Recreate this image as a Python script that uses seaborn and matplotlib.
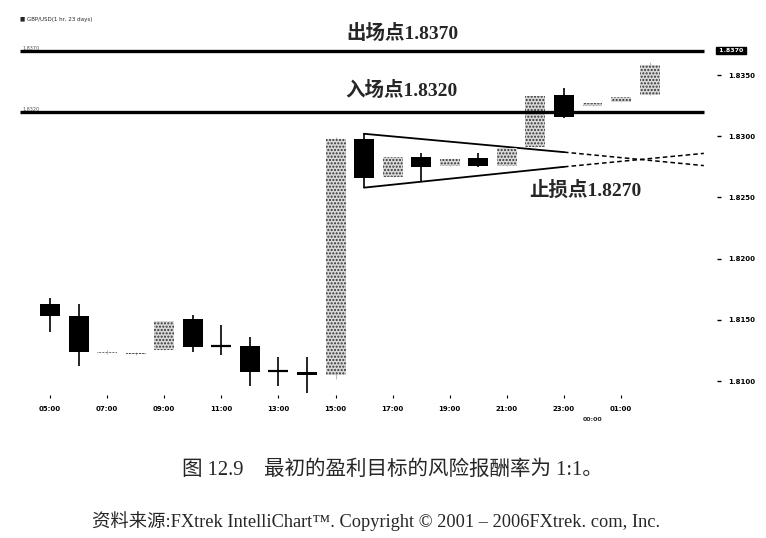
import pandas as pd
import matplotlib
matplotlib.use("Agg")
import matplotlib.pyplot as plt
import seaborn as sns

# 1小时K线 GBP/USD（从图上读出的大致数值）
hours = ['05:00', '06:00', '07:00', '08:00', '09:00', '10:00', '11:00', '12:00',
         '13:00', '14:00', '15:00', '16:00', '17:00', '18:00', '19:00', '20:00',
         '21:00', '22:00', '23:00', '00:00', '01:00', '02:00']
opens = [1.8163, 1.8153, 1.8123, 1.8122, 1.8125, 1.8151, 1.8129, 1.8129,
         1.8108, 1.8107, 1.8105, 1.8298, 1.8267, 1.8283, 1.8276, 1.8282,
         1.8276, 1.8291, 1.8334, 1.8325, 1.8328, 1.8334]
highs = [1.8168, 1.8163, 1.8125, 1.8124, 1.8149, 1.8154, 1.8146, 1.8136,
         1.8120, 1.8120, 1.8299, 1.8303, 1.8283, 1.8286, 1.8281, 1.8286,
         1.8290, 1.8333, 1.8339, 1.8327, 1.8332, 1.8361]
lows = [1.8140, 1.8112, 1.8122, 1.8121, 1.8125, 1.8124, 1.8121, 1.8096,
        1.8096, 1.8090, 1.8102, 1.8258, 1.8267, 1.8263, 1.8276, 1.8275,
        1.8276, 1.8291, 1.8315, 1.8325, 1.8328, 1.8334]
closes = [1.8153, 1.8124, 1.8124, 1.8123, 1.8149, 1.8128, 1.8129, 1.8107,
          1.8108, 1.8105, 1.8298, 1.8266, 1.8283, 1.8275, 1.8281, 1.8276,
          1.8290, 1.8333, 1.8316, 1.8327, 1.8332, 1.8358]

xtick_pos = [0, 2, 4, 6, 8, 10, 12, 14, 16, 18, 20]
xtick_labels = ['05:00', '07:00', '09:00', '11:00', '13:00', '15:00',
                '17:00', '19:00', '21:00', '23:00', '01:00']
ytick_vals = [1.8100, 1.8150, 1.8200, 1.8250, 1.8300, 1.8350]
ytick_labels = ['1.8100', '1.8150', '1.8200', '1.8250', '1.8300', '1.8350']

# 出场 / 入场水平线
exit_level = 1.8370
entry_level = 1.8320

# 三角形收敛线：实线段 + 虚线延伸
upper_x = [11, 18]
upper_y = [1.8302, 1.8287]
upper_ext_x = [18, 22.9]
upper_ext_y = [1.8287, 1.8276]
lower_x = [11, 18]
lower_y = [1.8258, 1.8275]
lower_ext_x = [18, 22.9]
lower_ext_y = [1.8275, 1.8286]

df = pd.DataFrame({'hour': hours, 'open': opens, 'high': highs,
                   'low': lows, 'close': closes})
df['x'] = range(len(df))

sns.set_theme(style="white")
plt.rcParams['font.family'] = ['Liberation Serif', 'Noto Sans CJK SC', 'DejaVu Sans']

fig = plt.figure(figsize=(7.66, 5.38), dpi=100)
ax = fig.add_axes([20 / 766, 1 - 395 / 538, 697 / 766, 360 / 538])
ax.set_xlim(-1.05, 23.36)
ax.set_ylim(1.80886, 1.83827)
for s in ax.spines.values():
    s.set_visible(False)

w = 0.7
for _, r in df.iterrows():
    o, c = r['open'], r['close']
    if c < o:
        ax.vlines(r['x'], r['low'], r['high'], color='black', lw=1.2, zorder=2)
        ax.bar(r['x'], o - c, bottom=c, width=w, color='black', lw=0, zorder=3)
    elif c > o:
        ax.vlines(r['x'], r['low'], r['high'], color='#bbbbbb', lw=0.8, zorder=2)
        ax.bar(r['x'], c - o, bottom=o, width=w, facecolor='#d8d8d8',
               edgecolor='#333333', hatch='.....', lw=0, zorder=3)
    else:
        ax.vlines(r['x'], r['low'], r['high'], color='black', lw=1.2, zorder=2)
        ax.hlines(c, r['x'] - w / 2, r['x'] + w / 2, color='black', lw=1.6, zorder=3)

# 水平线
ax.hlines([exit_level, entry_level], -1.05, 22.9, color='black', lw=2.4, zorder=4)
ax.text(-0.95, exit_level + 0.00004, '1.8370', fontsize=3.5, color='#555555', family='DejaVu Sans')
ax.text(-0.95, entry_level + 0.00004, '1.8320', fontsize=3.5, color='#555555', family='DejaVu Sans')

# 三角形
sns.lineplot(x=upper_x, y=upper_y, ax=ax, color='black', lw=1.3)
sns.lineplot(x=lower_x, y=lower_y, ax=ax, color='black', lw=1.3)
sns.lineplot(x=upper_ext_x, y=upper_ext_y, ax=ax, color='black', lw=1.1, linestyle=(0, (3, 2)))
sns.lineplot(x=lower_ext_x, y=lower_ext_y, ax=ax, color='black', lw=1.1, linestyle=(0, (3, 2)))

# 标注
ax.text(12.36, 1.8384, '出场点1.8370', fontsize=14, fontweight='bold', ha='center', va='center', clip_on=False)
ax.text(12.3, 1.8337, '入场点1.8320', fontsize=14, fontweight='bold', ha='center', va='center')
ax.text(18.74, 1.8256, '止损点1.8270', fontsize=14, fontweight='bold', ha='center', va='center')

# 坐标轴
ax.set_xticks(xtick_pos)
ax.set_xticklabels(xtick_labels, fontsize=5, fontweight='bold', family='DejaVu Sans')
ax.set_xticks([19], minor=True)
ax.set_xticklabels(['00:00'], minor=True, fontsize=4.5, fontweight='bold', family='DejaVu Sans')
ax.tick_params(axis='x', which='major', bottom=True, length=2, width=0.8, pad=6, colors='black')
ax.tick_params(axis='x', which='minor', bottom=True, length=0, pad=16)
ax.yaxis.tick_right()
ax.set_yticks(ytick_vals)
ax.set_yticklabels(ytick_labels, fontsize=5, fontweight='bold', family='DejaVu Sans')
ax.tick_params(axis='y', right=True, length=3, width=1, pad=5, colors='black')
ax.set_xlabel('')
ax.set_ylabel('')

# 最新价格框
ax.text(23.36, exit_level + 0.00003, ' 1.8370 ', fontsize=4.5, color='white', fontweight='bold',
        family='DejaVu Sans', va='center', ha='left', clip_on=False,
        bbox=dict(boxstyle='square,pad=0.15', fc='black', ec='black'))

fig.text(20 / 766, 1 - 20 / 538, '■ GBP/USD(1 hr, 23 days)', fontsize=4,
         family='DejaVu Sans', va='center')

fig.text(0.512, 1 - 470 / 538, '图 12.9    最初的盈利目标的风险报酬率为 1:1。',
         fontsize=14.8, ha='center', va='center')
fig.text(0.491, 1 - 521 / 538,
         '资料来源:FXtrek IntelliChart™. Copyright © 2001 – 2006FXtrek. com, Inc.',
         fontsize=13.2, ha='center', va='center')

fig.savefig('out.png', dpi=100)
